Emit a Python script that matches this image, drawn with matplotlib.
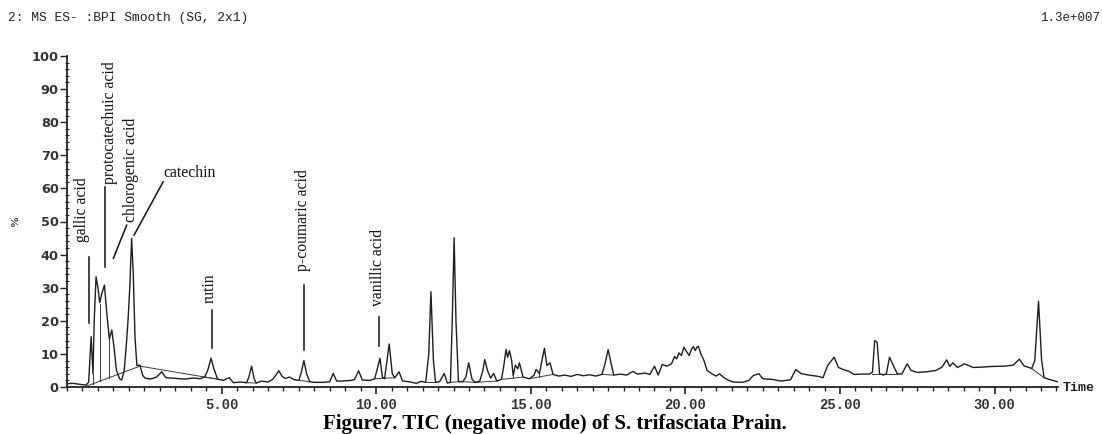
import matplotlib
matplotlib.use("Agg")
import matplotlib.pyplot as plt
from matplotlib.ticker import MultipleLocator, FixedLocator

# ---- data (time in min, relative abundance %) ----
time_min = [0.0, 0.2, 0.35, 0.5, 0.62, 0.70, 0.78, 0.84, 0.88, 0.94, 1.0, 1.06, 1.12, 1.21, 1.29,
            1.37, 1.45, 1.52, 1.60, 1.70, 1.77, 1.85, 1.93, 1.98, 2.03, 2.09, 2.14, 2.20, 2.26,
            2.36, 2.45, 2.52, 2.7, 2.9, 3.06, 3.2, 3.5, 3.8, 4.1, 4.3, 4.45, 4.55, 4.66, 4.75,
            4.87, 5.05, 5.25, 5.38, 5.6, 5.81, 5.88, 5.97, 6.05, 6.12, 6.3, 6.5, 6.65, 6.75,
            6.85, 6.95, 7.05, 7.2, 7.35, 7.5, 7.58, 7.66, 7.75, 7.85, 8.0, 8.3, 8.5, 8.61, 8.72,
            8.9, 9.2, 9.3, 9.43, 9.55, 9.8, 9.95, 10.05, 10.12, 10.2, 10.27, 10.35, 10.42, 10.52,
            10.6, 10.74, 10.85, 11.05, 11.3, 11.45, 11.6, 11.7, 11.77, 11.85, 11.92, 12.05, 12.2,
            12.3, 12.4, 12.46, 12.52, 12.58, 12.66, 12.8, 12.9, 12.99, 13.1, 13.2, 13.35, 13.45,
            13.51, 13.6, 13.7, 13.8, 13.9, 14.05, 14.12, 14.2, 14.25, 14.31, 14.38, 14.43, 14.5,
            14.58, 14.63, 14.75, 14.95, 15.1, 15.17, 15.28, 15.36, 15.44, 15.52, 15.62, 15.72,
            15.9, 16.1, 16.3, 16.5, 16.7, 16.9, 17.1, 17.3, 17.4, 17.5, 17.6, 17.68, 17.9, 18.1,
            18.3, 18.45, 18.7, 18.85, 19.0, 19.12, 19.25, 19.4, 19.55, 19.65, 19.72, 19.79,
            19.87, 19.95, 20.05, 20.12, 20.2, 20.26, 20.32, 20.37, 20.42, 20.5, 20.6, 20.7,
            20.85, 21.0, 21.1, 21.25, 21.4, 21.55, 21.85, 22.05, 22.2, 22.38, 22.5, 22.8, 23.1,
            23.4, 23.57, 23.75, 24.0, 24.3, 24.45, 24.6, 24.81, 24.95, 25.1, 25.3, 25.45, 25.7,
            25.95, 26.05, 26.12, 26.2, 26.28, 26.4, 26.5, 26.6, 26.7, 26.85, 27.0, 27.17, 27.3,
            27.5, 27.8, 28.1, 28.3, 28.45, 28.55, 28.65, 28.8, 29.03, 29.3, 29.6, 29.9, 30.3,
            30.6, 30.8, 30.95, 31.2, 31.3, 31.42, 31.52, 31.6, 31.8, 32.03]
abundance = [1.0, 1.1, 0.9, 0.7, 0.6, 1.5, 15.2, 4.0, 20.0, 33.3, 30.0, 25.5, 28.0, 30.8, 22.0,
             14.5, 17.2, 12.0, 5.0, 2.5, 2.1, 5.0, 14.0, 21.2, 30.0, 44.9, 35.0, 15.0, 6.5,
             6.6, 3.5, 2.7, 2.4, 3.0, 4.6, 2.8, 2.6, 2.4, 2.7, 2.5, 3.0, 5.0, 8.7, 5.5,
             2.4, 2.0, 2.8, 1.3, 1.5, 1.3, 3.0, 6.3, 2.5, 1.2, 1.8, 1.5, 2.3, 3.5,
             4.9, 3.3, 2.6, 3.0, 2.2, 2.0, 4.5, 8.0, 4.0, 1.6, 1.4, 1.4, 1.6, 4.1, 1.8,
             1.8, 2.0, 2.3, 4.9, 2.1, 2.0, 2.5, 6.0, 8.7, 3.0, 2.5, 8.0, 13.0, 4.0,
             2.8, 4.6, 1.8, 1.6, 1.1, 1.7, 1.4, 10.0, 28.8, 8.0, 1.4, 1.6, 4.1,
             1.2, 1.4, 20.0, 45.1, 20.0, 1.6, 1.6, 3.0, 7.3, 2.3, 1.4, 1.8, 5.0,
             8.3, 5.0, 2.7, 4.1, 1.8, 2.3, 6.0, 11.4, 9.0, 11.0, 8.0, 3.4, 6.6,
             5.5, 7.3, 3.0, 2.5, 3.5, 5.3, 4.1, 8.0, 11.7, 6.5, 7.3, 3.8,
             3.3, 3.6, 3.2, 3.8, 3.4, 3.7, 3.3, 3.8, 7.0, 11.3, 7.0, 3.6, 3.9, 3.6,
             4.7, 3.9, 4.2, 3.8, 6.3, 3.6, 6.8, 6.3, 7.0, 9.2, 8.5, 10.3,
             9.5, 12.0, 10.5, 9.5, 11.5, 12.2, 11.0, 12.0, 12.3, 10.0, 8.0, 5.0,
             4.0, 3.3, 4.0, 2.8, 2.0, 1.5, 1.4, 2.0, 3.5, 4.0, 2.5, 2.3, 1.8,
             2.2, 5.3, 4.0, 3.6, 3.2, 2.8, 6.5, 9.0, 5.9, 5.3, 4.7, 3.8, 3.9,
             3.9, 4.5, 14.0, 13.5, 4.0, 3.6, 4.0, 9.0, 7.0, 4.0, 3.9, 7.0, 5.0,
             4.4, 4.6, 5.0, 6.0, 8.2, 6.2, 7.3, 5.9, 7.0, 5.9, 6.0, 6.2, 6.3,
             6.6, 8.4, 6.4, 5.6, 8.0, 25.9, 8.0, 2.8, 2.2, 1.6]

# integration baselines: (t_start, y_start, t_end, y_end)
baseline_segments = [
    (0.64, 0.3, 2.36, 6.3), (2.36, 6.3, 4.84, 2.4), (4.45, 3.0, 4.87, 2.4),
    (5.81, 1.3, 6.12, 1.2), (7.5, 2.0, 7.85, 1.6), (9.95, 2.5, 10.6, 2.8),
    (11.6, 1.4, 11.92, 1.4), (12.4, 1.4, 12.66, 1.6), (12.8, 1.6, 13.2, 1.4),
    (13.2, 1.4, 13.9, 1.8), (14.05, 2.3, 14.75, 3.0), (14.95, 2.5, 15.72, 3.8),
    (17.3, 3.8, 17.68, 3.6), (26.05, 4.0, 26.85, 4.0), (31.2, 5.6, 31.6, 2.8),
]
# peak drop lines: (t, y_bottom, y_top)
drop_lines = [(0.84, 0.9, 4.0), (1.07, 1.8, 25.0), (1.37, 2.85, 14.5), (1.77, 4.2, 4.2),
              (10.27, 2.6, 2.6), (14.43, 2.7, 3.4), (15.28, 3.1, 4.1)]

# annotations
compound_names = ["gallic acid", "protocatechuic acid", "chlorogenic acid", "catechin",
                  "rutin", "p-coumaric acid", "vanillic acid"]
label_pos = [(0.475, 53.5), (1.39, 80.0), (2.06, 65.5), (3.95, 64.6),
             (4.62, 30.0), (7.62, 50.5), (10.07, 36.1)]
label_rot = [90, 90, 90, 0, 90, 90, 90]
pointer_lines = [((0.72, 19.2), (0.72, 39.4)), ((1.23, 36.3), (1.23, 60.5)),
                 ((1.5, 38.9), (1.93, 48.9)), ((2.17, 45.9), (3.11, 62.0)),
                 ((4.70, 11.7), (4.70, 23.3)), ((7.66, 11.2), (7.66, 30.8)),
                 ((10.1, 12.4), (10.1, 21.2))]

x_major = [5, 10, 15, 20, 25, 30]
x_labels = ["5.00", "10.00", "15.00", "20.00", "25.00", "30.00"]
y_major = list(range(0, 101, 10))

W, H = 1102, 434
fig = plt.figure(figsize=(W / 100, H / 100), dpi=100)
ax = fig.add_axes([67 / W, 1 - 387 / H, (1058 - 67) / W, (387 - 56) / H])

ax.plot(time_min, abundance, color="#1e1e1e", lw=1.0, zorder=3)
for t0, y0, t1, y1 in baseline_segments:
    ax.plot([t0, t1], [y0, y1], color="#3a3a3a", lw=0.7, zorder=2)
for t, yb, yt in drop_lines:
    ax.plot([t, t], [yb, yt], color="#3a3a3a", lw=0.7, zorder=2)

for name, (tx, ty), rot, (p0, p1) in zip(compound_names, label_pos, label_rot, pointer_lines):
    ax.text(tx, ty, name, rotation=rot, ha="center", va="center",
            family="Liberation Serif", fontsize=11.3, color="#101018")
    ax.plot([p0[0], p1[0]], [p0[1], p1[1]], color="#111111", lw=1.1)

ax.set_xlim(0, 32.05)
ax.set_ylim(0, 100)
for s in ("top", "right"):
    ax.spines[s].set_visible(False)
for s in ("left", "bottom"):
    ax.spines[s].set_linewidth(1.3)
    ax.spines[s].set_color("#222222")

ax.xaxis.set_major_locator(FixedLocator(x_major))
ax.set_xticklabels(x_labels, family="Liberation Mono", fontweight="bold", fontsize=10,
                   color="#333333")
ax.xaxis.set_minor_locator(MultipleLocator(0.5))
ax.set_yticks(y_major)
ax.set_yticklabels([str(v) for v in y_major], family="DejaVu Sans", fontweight="bold",
                   fontsize=9.3, color="#333333")
ax.yaxis.set_minor_locator(MultipleLocator(2))
ax.tick_params(axis="x", which="major", length=5, width=1.2, pad=3, color="#222222")
ax.tick_params(axis="x", which="minor", length=3, width=1.0, color="#222222")
ax.tick_params(axis="y", which="major", length=5, width=1.0, pad=1, color="#222222")
ax.tick_params(axis="y", which="minor", length=3, width=0.8, direction="inout", color="#222222")

fig.text(8 / W, 1 - 18 / H, "2: MS ES- :BPI Smooth (SG, 2x1)", ha="left", va="center",
         family="Liberation Mono", fontsize=9.4, color="#222222")
fig.text(1100 / W, 1 - 18 / H, "1.3e+007", ha="right", va="center",
         family="Liberation Mono", fontsize=9.0, color="#222222")
fig.text(15 / W, 1 - 221 / H, "%", rotation=90, ha="center", va="center",
         family="Liberation Serif", fontweight="bold", fontsize=8, color="#222222")
fig.text(1063 / W, 1 - 388 / H, "Time", ha="left", va="center",
         family="Liberation Mono", fontweight="bold", fontsize=9.6, color="#222222")
fig.text(554.5 / W, 1 - 424 / H, "Figure7. TIC (negative mode) of S. trifasciata Prain.",
         ha="center", va="center", family="Liberation Serif", fontweight="bold",
         fontsize=15, color="black")

fig.savefig("out.png", dpi=100)
